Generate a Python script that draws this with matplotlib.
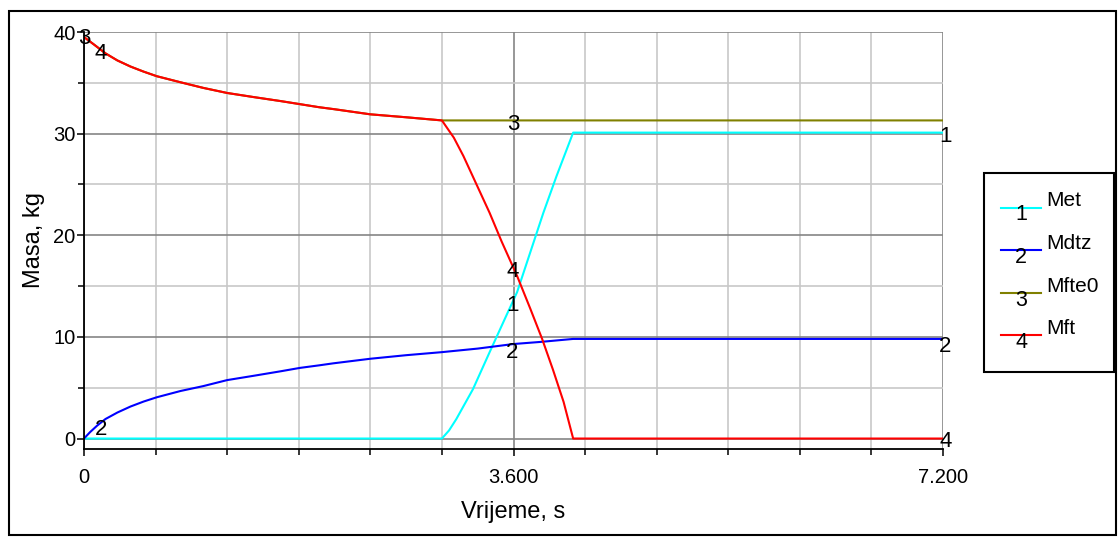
import numpy as np
import matplotlib
matplotlib.use("Agg")
import matplotlib.pyplot as plt
from matplotlib.patches import Rectangle
from matplotlib.ticker import MultipleLocator, FixedLocator

plt.rcParams['font.family'] = ['Liberation Sans', 'DejaVu Sans']

# values
t_mft = [0, 0.08, 0.18, 0.28, 0.39, 0.5, 0.61, 0.81, 1.0, 1.2, 1.42, 1.65, 1.81, 1.97,
         2.1, 2.4, 2.71, 3.0,
         3.1, 3.18, 3.29, 3.4, 3.5, 3.63, 3.74, 3.84, 3.93, 4.02, 4.1, 7.2]
mft = [39.5, 38.8, 37.9, 37.2, 36.6, 36.1, 35.65, 35.05, 34.5, 34.0, 33.6, 33.2, 32.9, 32.6,
       32.4, 31.9, 31.6, 31.3,
       29.6, 27.8, 25.0, 22.2, 19.4, 16.0, 12.8, 9.8, 6.8, 3.6, 0, 0]

# Mfte0 follows Mft until the switch, then stays constant
t_mfte0 = t_mft[:18] + [7.2]
mfte0 = mft[:18] + [31.3]

t_met = [0, 3.0, 3.06, 3.12, 3.26, 3.4, 3.54, 3.63, 3.74, 3.85, 3.96, 4.1, 7.2]
met = [0, 0, 0.8, 1.9, 4.85, 8.5, 12.1, 14.4, 18.3, 22.2, 25.8, 30.1, 30.1]

t_mdtz = [0, 0.05, 0.11, 0.18, 0.28, 0.39, 0.5, 0.61, 0.81, 1.0, 1.2, 1.42, 1.65, 1.81,
          1.97, 2.09, 2.4, 2.7, 3.0, 3.3, 3.6, 3.82, 4.1, 7.2]
mdtz = [0, 0.62, 1.27, 1.92, 2.56, 3.15, 3.64, 4.06, 4.68, 5.16, 5.75, 6.17, 6.62, 6.95,
        7.2, 7.4, 7.85, 8.2, 8.5, 8.85, 9.3, 9.5, 9.8, 9.8]

names = ['Met', 'Mdtz', 'Mfte0', 'Mft']
colors = ['#00ffff', '#0000ff', '#808000', '#ff0000']

# curve number labels (text, t, value)
curve_labels = [('3', 0.0, 39.4), ('4', 0.14, 37.9), ('2', 0.14, 0.9),
                ('3', 3.6, 30.9), ('4', 3.59, 16.4), ('1', 3.59, 13.1), ('2', 3.59, 8.5),
                ('1', 7.22, 29.7), ('2', 7.22, 9.1), ('4', 7.22, -0.3)]

fig = plt.figure(figsize=(11.2, 5.37), dpi=100)
ax = fig.add_axes([84 / 1120, 1 - 449 / 537, 859 / 1120, 417 / 537])

ax.plot(t_met, met, color=colors[0], lw=1.5)
ax.plot(t_mdtz, mdtz, color=colors[1], lw=1.5)
ax.plot(t_mfte0, mfte0, color=colors[2], lw=1.5)
ax.plot(t_mft, mft, color=colors[3], lw=1.5)

for txt, tx, ty in curve_labels:
    ax.text(tx, ty, txt, fontsize=16, ha='center', va='center', zorder=5)

ax.set_xlim(0, 7.2)
ax.set_ylim(-1.03, 40)

ax.xaxis.set_major_locator(FixedLocator([0, 3.6, 7.2]))
ax.xaxis.set_minor_locator(MultipleLocator(0.6))
ax.set_xticklabels(['0', '3.600', '7.200'])
ax.yaxis.set_major_locator(MultipleLocator(10))
ax.yaxis.set_minor_locator(MultipleLocator(5))

ax.grid(which='major', color='#858585', lw=1.2)
ax.grid(which='minor', color='#c8c8c8', lw=1.2)
ax.set_axisbelow(True)

for s in ['top', 'right']:
    ax.spines[s].set_visible(False)
for s in ['left', 'bottom']:
    ax.spines[s].set_linewidth(1.3)

ax.tick_params(axis='both', which='major', labelsize=14.5, length=5, width=1.1)
ax.tick_params(axis='both', which='minor', length=4, width=1.1)
ax.tick_params(axis='y', pad=1)
ax.tick_params(axis='x', pad=9)

ax.set_xlabel('Vrijeme, s', fontsize=17)
ax.set_ylabel('Masa, kg', fontsize=17)
ax.xaxis.set_label_coords(0.5, -0.125)
ax.yaxis.set_label_coords(-0.045, 0.5)

# overlay in pixel coordinates for the outer frame and the legend box
ov = fig.add_axes([0, 0, 1, 1], facecolor='none')
ov.set_xlim(0, 1120)
ov.set_ylim(537, 0)
ov.axis('off')
ov.add_patch(Rectangle((8.5, 11), 1107, 524, fill=False, lw=1.5, ec='black'))
ov.add_patch(Rectangle((984, 173), 130, 199, fill=False, lw=1.5, ec='black', fc='white'))

for i, (name, col) in enumerate(zip(names, colors)):
    ly = 207.5 + i * 42.6
    ov.plot([1001, 1041], [ly, ly], color=col, lw=1.5)
    ov.text(1021, ly + 7.5, str(i + 1), fontsize=15.5, ha='center', va='center')
    ov.text(1046, ly - 1, name, fontsize=15, ha='left', va='baseline')

fig.savefig('out.png', dpi=100)
